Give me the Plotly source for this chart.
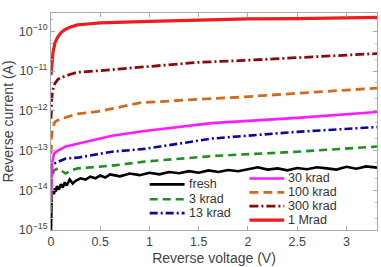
import plotly.graph_objects as go

names = ["fresh", "3 krad", "13 krad", "30 krad", "100 krad", "300 krad", "1 Mrad"]
colors = ["#000000", "#1f8f1f", "#0a0aa0", "#ff1aff", "#d2691e", "#8b0a0a", "#ee1c1c"]
dashes = ["solid", "8px,5px", "8px,3px,2px,3px", "solid", "9px,5px", "9px,3px,2px,3px", "solid"]

# log10 of reverse current (A) vs reverse voltage (V)
x_fresh = [0.0, 0.003, 0.008, 0.02, 0.03, 0.04, 0.05, 0.06, 0.08, 0.1, 0.12, 0.14, 0.16, 0.19,
           0.22, 0.25, 0.3, 0.35, 0.4, 0.45, 0.5, 0.55, 0.6, 0.7, 0.8, 0.9, 1.0, 1.1, 1.2, 1.3,
           1.4, 1.5, 1.6, 1.7, 1.8, 1.9, 2.0, 2.1, 2.2, 2.3, 2.4, 2.5, 2.6, 2.7, 2.8, 2.9, 3.0,
           3.1, 3.2, 3.31]
l_fresh = [-15.0, -14.45, -14.08, -14.0, -14.1, -13.95, -14.03, -13.9, -13.98, -13.85, -13.93,
           -13.8, -13.88, -13.73, -13.83, -13.76, -13.7, -13.73, -13.66, -13.7, -13.63, -13.68,
           -13.6, -13.65, -13.58, -13.62, -13.56, -13.6, -13.54, -13.57, -13.52, -13.56, -13.5,
           -13.54, -13.49, -13.52, -13.47, -13.42, -13.48, -13.45, -13.5, -13.44, -13.47, -13.42,
           -13.45, -13.48, -13.41, -13.46, -13.4, -13.43]
x_3k = [0.0, 0.005, 0.01, 0.03, 0.07, 0.1, 0.15, 0.2, 0.27, 0.62, 0.95, 1.63, 2.5, 3.31]
l_3k = [-14.57, -14.08, -13.65, -13.5, -13.45, -13.5, -13.58, -13.5, -13.45, -13.38, -13.28,
        -13.14, -13.03, -12.9]
x_13k = [0.0, 0.01, 0.03, 0.07, 0.15, 0.27, 0.62, 0.95, 1.63, 2.5, 3.31]
l_13k = [-13.58, -13.4, -13.33, -13.28, -13.2, -13.18, -13.03, -12.96, -12.7, -12.53, -12.41]
x_30k = [0.0, 0.005, 0.01, 0.03, 0.07, 0.15, 0.27, 0.62, 0.95, 1.63, 2.5, 3.31]
l_30k = [-14.33, -13.83, -13.33, -13.08, -13.0, -12.9, -12.83, -12.63, -12.51, -12.31, -12.18, -12.03]
x_100k = [0.0, 0.005, 0.01, 0.02, 0.04, 0.09, 0.19, 0.27, 0.5, 0.9, 1.5, 1.91, 2.5, 3.31]
l_100k = [-13.08, -12.76, -12.58, -12.41, -12.28, -12.21, -12.13, -12.08, -12.01, -11.8, -11.71,
          -11.66, -11.56, -11.43]
x_300k = [0.0, 0.005, 0.01, 0.02, 0.04, 0.07, 0.11, 0.2, 0.27, 0.5, 1.0, 1.5, 1.91, 2.5, 3.31]
l_300k = [-12.2, -11.83, -11.63, -11.46, -11.31, -11.21, -11.16, -11.08, -11.03, -10.99, -10.89,
          -10.78, -10.74, -10.66, -10.56]
x_1M = [0.0, 0.01, 0.02, 0.04, 0.07, 0.1, 0.14, 0.2, 0.27, 0.4, 0.5, 1.0, 1.5, 2.0, 2.5, 3.31]
l_1M = [-11.1, -10.76, -10.54, -10.29, -10.14, -10.04, -9.96, -9.89, -9.84, -9.81, -9.79, -9.75,
        -9.71, -9.69, -9.68, -9.65]

y_tick_exp = [-15, -14, -13, -12, -11, -10]
x_ticks = [0, 0.5, 1, 1.5, 2, 2.5, 3]
x_tick_text = ["0", "0.5", "1", "1.5", "2", "2.5", "3"]

xs = [x_fresh, x_3k, x_13k, x_30k, x_100k, x_300k, x_1M]
ls = [l_fresh, l_3k, l_13k, l_30k, l_100k, l_300k, l_1M]
widths = [2.6, 2.6, 2.6, 2.6, 2.8, 2.8, 3.2]

fig = go.Figure()
for n, c, d, x, l, w in zip(names, colors, dashes, xs, ls, widths):
    fig.add_trace(go.Scatter(x=x, y=[10 ** v for v in l], mode="lines", name=n,
                             line=dict(color=c, dash=d, width=w), showlegend=False))

# manual two-column legend (paper coordinates)
W, H = 381, 267
ml, mr, mt, mb = 51, 3, 13, 35
pw, ph = W - ml - mr, H - mt - mb
def px(x):
    return (x - ml) / pw
def py(y):
    return 1 - (y - mt) / ph

leg_pos = [(150, 186), (150, 201), (150, 215), (250, 180), (250, 194), (250, 208), (250, 222)]
shapes = []
annotations = []
for (lx, ly), n, c, d, w in zip(leg_pos, names, colors, dashes, widths):
    shapes.append(dict(type="line", xref="paper", yref="paper", x0=px(lx), x1=px(lx + 35),
                       y0=py(ly), y1=py(ly), line=dict(color=c, dash=d, width=w)))
    annotations.append(dict(xref="paper", yref="paper", x=px(lx + 37), y=py(ly), text=n,
                            showarrow=False, xanchor="left", yanchor="middle",
                            font=dict(size=12.5, color="#333")))

fig.update_layout(
    width=W, height=H, margin=dict(l=ml, r=mr, t=mt, b=mb),
    paper_bgcolor="white", plot_bgcolor="white",
    font=dict(family="Liberation Sans, Arial", size=12.5, color="#444"),
    shapes=shapes, annotations=annotations,
    xaxis=dict(range=[0, 3.31], tickvals=x_ticks, ticktext=x_tick_text,
               showline=True, linecolor="#aaa", linewidth=1, mirror="ticks",
               ticks="inside", ticklen=4, tickcolor="#aaa", showgrid=False, zeroline=False,
               title=dict(text="Reverse voltage (V)", font=dict(size=14), standoff=5)),
    yaxis=dict(type="log", range=[-15, -9.54], tickvals=[10.0 ** e for e in y_tick_exp],
               ticktext=["10<sup>\u2212%d</sup>" % (-e) for e in y_tick_exp],
               showline=True, linecolor="#aaa", linewidth=1,
               mirror="ticks", ticks="inside", ticklen=4, tickcolor="#aaa", showgrid=False,
               zeroline=False, minor=dict(ticks="inside", ticklen=2, tickcolor="#bbb",
                                          showgrid=False),
               title=dict(text="Reverse current (A)", font=dict(size=14), standoff=3)),
)
fig.write_html("out.html")
